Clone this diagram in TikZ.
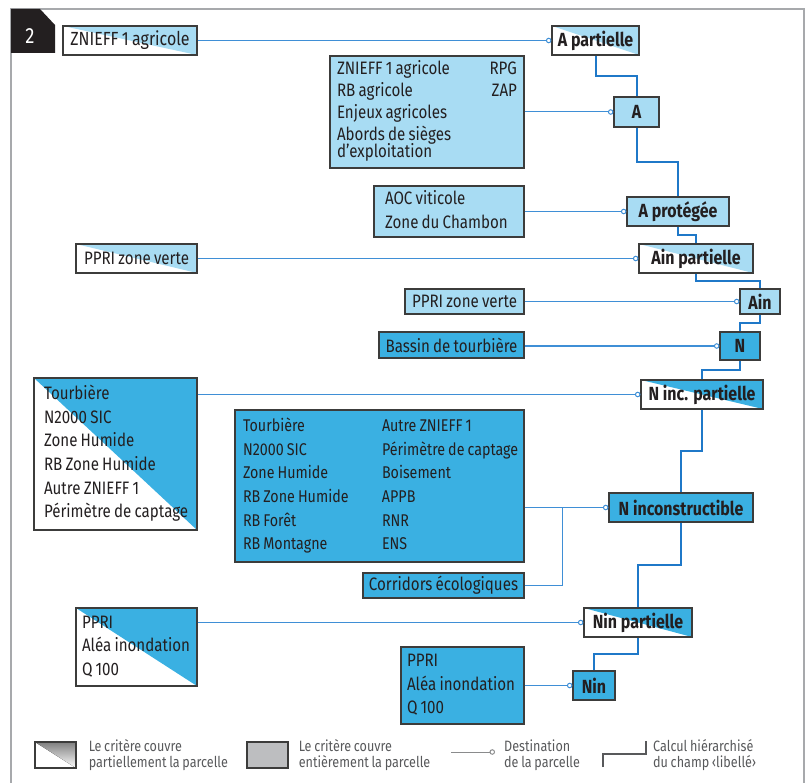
\documentclass[tikz,border=0pt]{standalone}
\usepackage{fontspec}
\setmainfont{Fira Sans}[FakeStretch=0.84, WordSpace=0.8]
\newfontfamily\labfont{Fira Sans}[FakeStretch=0.84]
\usetikzlibrary{arrows.meta}
\usetikzlibrary{calc}
\usetikzlibrary{positioning}

\definecolor{pale}{HTML}{A8DCF3}
\definecolor{deep}{HTML}{3AB0E2}
\definecolor{edge}{HTML}{3C3C3B}
\definecolor{ink}{HTML}{231F20}
\definecolor{wire}{HTML}{3F8FD6}
\definecolor{trunk}{HTML}{1F78C8}
\definecolor{rim}{HTML}{A7A9AC}
\definecolor{shade}{HTML}{BDBEC0}
\definecolor{legink}{HTML}{58595B}

% lines of a criterion box, with the font's own word space
\newcommand\rowsof[1]{\spaceskip=0pt\xspaceskip=0pt\begin{tabular}{@{}l@{}}#1\end{tabular}}

\tikzset{
    box/.style={draw=edge, line width=1.1pt, inner sep=0pt, text=ink, font=\fontsize{18}{23.6}\selectfont},
    lab/.style={box, font=\labfont\bfseries\fontsize{19}{22}\selectfont},
    sz/.style 2 args={minimum width=#1pt, minimum height=#2pt},
    list/.style={align=left, text width=#1},
    half/.style={path picture={\fill[#1] (path picture bounding box.north west) -- (path picture bounding box.north east) -- (path picture bounding box.south east) -- cycle;}},
    feed/.style={draw=wire, line width=1pt},
    dest/.style={feed, -{Circle[length=5.5pt, fill=white]}},
    hier/.style={draw=trunk, line width=2pt},
    legtxt/.style={anchor=west, inner sep=0pt, align=left, text=legink, font=\fontsize{15}{15.5}\selectfont}
}

\begin{document}
\begin{tikzpicture}[x=1pt, y=-1pt]

    \useasboundingbox (0,0) rectangle (808,783);

    % frame and tab
    \draw[rim, line width=1.2pt] (11,790) -- (11,9) -- (804,9) -- (804,790);
    \fill[ink] (11,9) -- (40,9) -- (55,25) -- (55,53) -- (11,53) -- cycle;
    \node[text=white, font=\fontsize{22}{22}\selectfont] (num) at (30,36) {2};

    % criteria
    \node[box, half=pale, sz={134}{29}, font=\fontsize{19}{23.6}\selectfont] (zna) at (130,40.5) {ZNIEFF 1 agricole};
    \node[box, fill=pale, sz={194}{112}, inner xsep=7pt, list=180pt, font=\fontsize{18}{21.7}\selectfont] (agri) at (427,112)
        {\rowsof{\makebox[180pt]{ZNIEFF 1 agricole\hfill RPG}\\ \makebox[180pt]{RB agricole\hfill ZAP}\\
         Enjeux agricoles\\ Abords de sièges\\[-4pt] d’exploitation}};
    \node[box, fill=pale, sz={150}{51}, inner xsep=11pt, list=128pt] (aoc) at (449,211.5)
        {\rowsof{AOC viticole\\ Zone du Chambon}};
    \node[box, half=pale, sz={121}{29}] (pzvp) at (136.5,258.5) {PPRI zone verte};
    \node[box, fill=pale, sz={119}{25}] (pzv) at (464.5,301.5) {PPRI zone verte};
    \node[box, fill=deep, sz={145}{26}] (bassin) at (451.5,345) {Bassin de tourbière};
    \node[box, half=deep, sz={163}{152}, inner xsep=10pt, list=143pt] (tourb) at (115.5,454)
        {\rowsof{Tourbière\\ N2000 SIC\\ Zone Humide\\ RB Zone Humide\\ Autre ZNIEFF 1\\ Périmètre de captage}};
    \node[box, fill=deep, sz={289}{152}, inner xsep=8pt, list=273pt, font=\fontsize{17}{23.6}\selectfont] (nat) at (379.5,486)
        {\rowsof{\makebox[139pt][l]{Tourbière}Autre ZNIEFF 1\\
         \makebox[139pt][l]{N2000 SIC}Périmètre de captage\\
         \makebox[139pt][l]{Zone Humide}Boisement\\
         \makebox[139pt][l]{RB Zone Humide}APPB\\
         \makebox[139pt][l]{RB Forêt}RNR\\
         \makebox[139pt][l]{RB Montagne}ENS}};
    \node[box, fill=deep, sz={161}{25}] (corr) at (443.5,585.5) {Corridors écologiques};
    \node[box, half=deep, sz={121}{78}, inner xsep=6pt, list=109pt] (ppip) at (136.5,647)
        {\rowsof{PPRI\\ Aléa inondation\\ Q 100}};
    \node[box, fill=deep, sz={123}{77}, inner xsep=6pt, list=111pt] (ppi) at (462.5,685.5)
        {\rowsof{PPRI\\ Aléa inondation\\ Q 100}};

    % destinations
    \node[lab, half=pale, sz={87}{29}] (apart) at (595.5,40.5) {A partielle};
    \node[lab, fill=pale, sz={45}{30}] (A) at (636.5,112) {A};
    \node[lab, fill=pale, sz={102}{29}] (aprot) at (678,211.5) {A protégée};
    \node[lab, half=pale, sz={114}{29}] (ainp) at (696,258.5) {Ain partielle};
    \node[lab, fill=pale, sz={40}{25}] (ain) at (760,301.5) {Ain};
    \node[lab, fill=deep, sz={40}{28}] (N) at (740,346) {N};
    \node[lab, half=deep, sz={122}{29}] (ninc) at (702,394.5) {N inc. partielle};
    \node[lab, fill=deep, sz={144}{29}] (ncons) at (681,507.5) {N inconstructible};
    \node[lab, half=deep, sz={108}{29}] (ninp) at (638,622.5) {Nin partielle};
    \node[lab, fill=deep, sz={42}{29}] (nin) at (594,685.5) {Nin};

    % criterion to destination
    \draw[dest] (zna.east) -- (apart.west);
    \draw[dest] (agri.east) -- (A.west);
    \draw[dest] (aoc.east) -- (aprot.west);
    \draw[dest] (pzvp.east) -- (ainp.west);
    \draw[dest] (pzv.east) -- (ain.west);
    \draw[dest] (bassin.east |- N.west) -- (N.west);
    \draw[dest] (tourb.east |- ninc.west) -- (ninc.west);
    \draw[dest] (nat.east |- ncons.west) -- (ncons.west);
    \draw[feed] (corr.east) -| ([xshift=38pt]nat.east |- ncons.west);
    \draw[dest] (ppip.east |- ninp.west) -- (ninp.west);
    \draw[dest] (ppi.east) -- (nin.west);

    % hierarchy
    \foreach \src/\dst in {apart/A, A/aprot, aprot/ainp, ainp/ain, ain/N, N/ninc, ninc/ncons, ncons/ninp, ninp/nin}
        \draw[hier] (\src.south) |- ($(\src.south)!.5!(\dst.north)$) -| (\dst.north);

    % legend
    \node[draw=edge, line width=1.1pt, half=shade, sz={41}{26}] (part) at (55.5,755) {};
    \node[legtxt, right=12pt of part] (parttxt) {Le critère couvre\\partiellement la parcelle};
    \node[draw=edge, line width=1.1pt, fill=shade, sz={41}{26}] (full) at (267.5,755) {};
    \node[legtxt, right=10pt of full] (fulltxt) {Le critère couvre\\entièrement la parcelle};
    \coordinate (dsa) at (451,752);
    \coordinate (dsb) at (495,752);
    \draw[draw=legink!70, line width=1pt, -{Circle[length=5.5pt, fill=white]}] (dsa) -- (dsb);
    \node[legtxt] (desttxt) at (504,755) {Destination\\de la parcelle};
    \coordinate (hca) at (603,767);
    \coordinate (hcb) at (646,741);
    \draw[draw=legink, line width=1.8pt] (hca) |- ($(hca)!.5!(hcb)$) -| (hcb);
    \node[legtxt] (hiertxt) at (653,755) {Calcul hiérarchisé\\du champ ‹libellé›};

\end{tikzpicture}
\end{document}
